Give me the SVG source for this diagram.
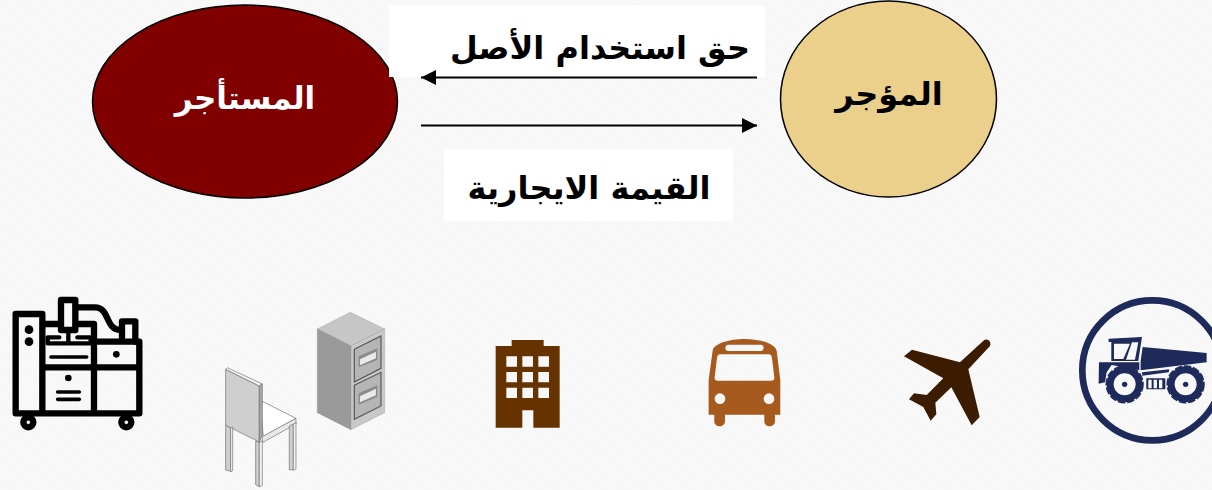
<svg xmlns="http://www.w3.org/2000/svg" width="1212" height="490" viewBox="0 0 1212 490">
<style>
.lbl{font-family:"DejaVu Sans","Noto Sans",sans-serif;font-weight:700;text-anchor:middle;direction:rtl}
.m{fill:none;stroke:#000;stroke-linejoin:round;stroke-linecap:round}
.t{fill:#1e2a59}
.c{stroke:#6e6e6e;stroke-width:2;stroke-linejoin:round}
</style>
<defs>
<marker id="ah" markerUnits="userSpaceOnUse" markerWidth="16" markerHeight="16" refX="15" refY="8" orient="auto"><path d="M0 0.500L15 8L0 15.500Z" fill="#000"/></marker>
<pattern id="tex" width="14" height="14" patternUnits="userSpaceOnUse" patternTransform="rotate(40)"><rect width="14" height="14" fill="#f8f8f8"/><rect width="14" height="4" fill="#f7f7f7"/></pattern>
</defs>
<rect width="1212" height="490" fill="url(#tex)"/>
<g id="node-lessee">
<ellipse cx="245" cy="101.500" rx="152.500" ry="96.500" fill="#800000" stroke="#000" stroke-width="1.500"/>
<text class="lbl" x="245" y="109" font-size="31" fill="#fff">المستأجر</text>
</g>
<g id="node-lessor">
<ellipse cx="888.500" cy="99" rx="108" ry="98" fill="#ebd08c" stroke="#000" stroke-width="1.500"/>
<text class="lbl" x="889" y="105" font-size="32" fill="#000">المؤجر</text>
</g>
<g id="label-right">
<rect x="389" y="5" width="376" height="72" fill="#fff"/>
<text class="lbl" x="600" y="59" font-size="32" fill="#000">حق استخدام الأصل</text>
</g>
<g id="label-rent">
<rect x="444" y="149" width="289" height="72" fill="#fff"/>
<text class="lbl" x="589" y="199" font-size="32" fill="#000">القيمة الايجارية</text>
</g>
<g id="connectors" fill="none" stroke="#000" stroke-width="2">
<path d="M757 77.500H421" marker-end="url(#ah)"/>
<path d="M421 125.500H757" marker-end="url(#ah)"/>
</g>
<g id="icon-machine" transform="translate(0 280) scale(.3333)">
<path class="m" stroke-width="19" d="M47 102H127V400H47ZM127 400H418V185H282M127 262H418M282 135V400M127 132H180M232 132H282"/>
<path class="m" stroke-width="19" d="M183 60H226V150H183ZM232 82H285C330 82 315 150 362 150M366 175V124H406V185"/>
<path class="m" stroke-width="13" d="M143 172V190H272V172H232M143 172H178M205 150V185"/>
<path class="m" stroke-width="11" d="M153 231H260M173 336H238M173 358H238"/>
<circle cx="87" cy="149" r="13"/><circle cx="87" cy="185" r="13"/><circle cx="349" cy="223" r="10"/><circle cx="205" cy="294" r="10"/>
<circle cx="85" cy="427" r="15" fill="#f8f8f8" stroke="#000" stroke-width="19"/><circle cx="379" cy="427" r="15" fill="#f8f8f8" stroke="#000" stroke-width="19"/>
</g>
<g id="icon-chair" transform="translate(0 280) scale(.3333)">
<path class="c" fill="#fff" d="M787 364L888 415L790 470L782 380Z"/>
<path class="c" fill="#cfcfcf" d="M677 268L778 318V486L677 436Z"/>
<path class="c" fill="#f5f5f5" d="M677 268L682 263L787 312L778 318Z"/>
<path class="c" fill="#a8a8a8" d="M778 318L787 312V465L778 486Z"/>
<path class="c" fill="#e8e8e8" d="M787 470L888 415V432L787 488Z"/>
<path class="c" fill="#cfcfcf" d="M677 436L692 444V574L677 570Z"/>
<path class="c" fill="#f2f2f2" d="M692 444L698 441V572L692 576Z"/>
<path class="c" fill="#cfcfcf" d="M767 484L778 488V620L767 614Z"/>
<path class="c" fill="#f2f2f2" d="M778 488L787 482V616L778 620Z"/>
<path class="c" fill="#cfcfcf" d="M868 438L880 432V568L868 570Z"/>
<path class="c" fill="#f2f2f2" d="M880 432L888 428V566L880 572Z"/>
</g>
<g id="icon-cabinet" transform="translate(0 280) scale(.3333)">
<path fill="#c6c6c6" stroke="#8c8c8c" d="M952 147L1051 97L1154 147L1053 198Z"/>
<path fill="#9a9a9a" stroke="#808080" d="M952 147L1053 198V449L952 398Z"/>
<path fill="#c8c8c8" stroke="#8c8c8c" d="M1053 198L1154 147V398L1053 449Z"/>
<path fill="#b5b5b5" stroke="#555" stroke-width="3.500" d="M1063 208L1143 168V265L1063 306Z"/>
<path fill="#b5b5b5" stroke="#555" stroke-width="3.500" d="M1063 316L1143 277V378L1063 418Z"/>
<path fill="#8a8a8a" d="M1076 229L1132 205V240L1076 262Z"/>
<path fill="#e9e9e9" d="M1080 238L1128 215V235L1080 256Z"/>
<path fill="#8a8a8a" d="M1076 340L1132 316V350L1076 374Z"/>
<path fill="#e9e9e9" d="M1080 349L1128 326V346L1080 367Z"/>
</g>
<g id="icon-building" transform="translate(480 320) scale(.3333)" fill="#663300">
<path fill-rule="evenodd" d="M47 78H95V60H191V78H239V323H160V271H127V323H47ZM79 109V140H111V109ZM127 109V140H159V109ZM175 109V140H207V109ZM79 156V187H111V156ZM127 156V187H159V156ZM175 156V187H207V156ZM79 203V234H111V203ZM127 203V234H159V203ZM175 203V234H207V203Z"/>
</g>
<g id="icon-bus" transform="translate(480 320) scale(.3333)" fill="#a65a1e">
<path fill-rule="evenodd" d="M686 180L698 92C702 70 750 57 794 57C838 57 885 70 890 92L901 180V284H885V304C885 324 853 324 853 304V284H735V304C735 324 703 324 703 304V284H686ZM745 74C733 74 733 93 745 93H842C854 93 854 74 842 74ZM722 103C714 103 712 108 711 114L704 172C703 179 707 182 713 182H874C880 182 884 179 883 172L876 114C875 108 873 103 865 103ZM720 220A16 16 0 1 0 720 252A16 16 0 1 0 720 220ZM867 220A16 16 0 1 0 867 252A16 16 0 1 0 867 220Z"/>
</g>
<g id="icon-plane" transform="translate(890 285) scale(.3333)" fill="#3b1c00">
<path d="M282 166C292 158 306 170 300 183L235 253L269 396L245 421L184 307L136 353L139 388L122 407L100 366L57 343L72 325L110 330L160 280L42 214L66 194L210 232Z"/>
</g>
<g id="icon-truck" transform="translate(890 285) scale(.3333)">
<circle cx="787" cy="256" r="210" fill="none" stroke="#1e2a59" stroke-width="20"/>
<path class="t" d="M758 186L950 204V232L752 256V228Z"/>
<path class="t" d="M756 262L838 253L836 262L757 272Z"/>
<path class="t" d="M627 232H748V256L665 240L650 262L645 292L626 296Z"/>
<path class="t" fill-rule="evenodd" d="M656 161L756 156L745 228H664L664 171H656ZM672 176V222H700L720 176ZM726 172L708 224H735L745 172Z"/>
<g class="t">
<circle cx="704" cy="298" r="54"/>
<circle cx="887" cy="298" r="54"/>
</g>
<g fill="none" stroke="#1e2a59" stroke-width="5" stroke-dasharray="22 6">
<circle cx="704" cy="298" r="55"/>
<circle cx="887" cy="298" r="55"/>
</g>
<circle cx="704" cy="298" r="33" fill="#f8f8f8"/><circle class="t" cx="704" cy="298" r="8"/>
<circle cx="887" cy="298" r="33" fill="#f8f8f8"/><circle class="t" cx="887" cy="298" r="8"/>
<path class="t" fill-rule="evenodd" d="M769 280H826V313H769ZM775 284V310H785V284ZM791 284V310H801V284ZM807 284V310H817V284Z"/>
</g>
</svg>
